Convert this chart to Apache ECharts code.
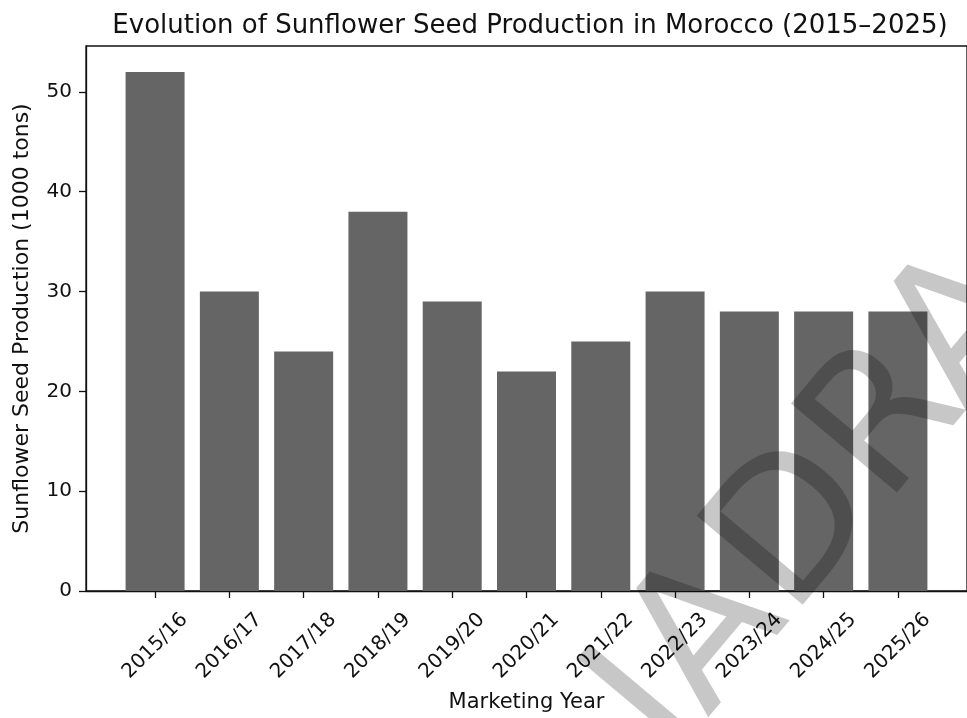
<!DOCTYPE html>
<html>
<head>
<meta charset="utf-8">
<script src="https://cdn.jsdelivr.net/npm/echarts@6/dist/echarts.min.js"></script>
<style>
  html, body { margin: 0; padding: 0; background: #fff; }
  #chart { width: 967px; height: 718px; }
</style>
</head>
<body>
<div id="chart"></div>
<script>
// marketing years and production (1000 tons)
var years = ["2015/16", "2016/17", "2017/18", "2018/19", "2019/20", "2020/21",
             "2021/22", "2022/23", "2023/24", "2024/25", "2025/26"];
var production = [52, 30, 24, 38, 29, 22, 25, 30, 28, 28, 28];
var yTicks = [0, 10, 20, 30, 40, 50];

var font = "DejaVu Sans";
var idx = years.map(function (y, i) { return i; });
var barData = production.map(function (v, i) { return [i, v]; });

var chart = echarts.init(document.getElementById("chart"));
chart.setOption({
  animation: false,
  backgroundColor: "#fff",
  textStyle: { fontFamily: font, color: "#111" },
  title: {
    text: "Evolution of Sunflower Seed Production in Morocco (2015\u20132025)",
    left: 525,
    textAlign: "center",
    top: 8,
    textStyle: { fontFamily: font, fontSize: 26, fontWeight: "normal", color: "#111" }
  },
  grid: {
    left: 86, right: 0, top: 46, bottom: 127,
    outerBoundsMode: "none",
    containLabel: false,
    show: true, borderColor: "#111", borderWidth: 1.3, backgroundColor: "transparent"
  },
  xAxis: {
    type: "value",
    min: -0.93, max: 10.93,
    name: "Marketing Year",
    nameLocation: "middle",
    nameGap: 101,
    nameTextStyle: { fontFamily: font, fontSize: 21, color: "#111" },
    splitLine: { show: false },
    axisLine: { show: true, onZero: false, lineStyle: { color: "#111", width: 1.3 } },
    axisTick: { show: true, customValues: idx, length: 7, lineStyle: { color: "#111", width: 1.3 } },
    axisLabel: {
      customValues: idx,
      formatter: function (v) { return years[Math.round(v)]; },
      rotate: 45,
      align: "center",
      verticalAlign: "middle",
      margin: 55,
      fontFamily: font, fontSize: 20, color: "#111",
      hideOverlap: false
    }
  },
  yAxis: {
    type: "value",
    min: 0, max: 54.6,
    name: "Sunflower Seed Production (1000 tons)",
    nameLocation: "middle",
    nameGap: 53,
    nameTextStyle: { fontFamily: font, fontSize: 22, color: "#111" },
    splitLine: { show: false },
    axisLine: { show: true, onZero: false, lineStyle: { color: "#111", width: 1.3 } },
    axisTick: { show: true, customValues: yTicks, length: 7, lineStyle: { color: "#111", width: 1.3 } },
    axisLabel: { customValues: yTicks, margin: 14, fontFamily: font, fontSize: 20, color: "#111" }
  },
  series: [{
    type: "bar",
    data: barData,
    barWidth: 59,
    itemStyle: { color: "#656565" }
  }],
  graphic: [{
    type: "text",
    x: 822, y: 505,
    rotation: 50 * Math.PI / 180,
    z: 100,
    silent: true,
    style: {
      text: "IADRA",
      fontFamily: font,
      fontSize: 190,
      fill: "rgba(0,0,0,0.22)",
      textAlign: "center",
      textVerticalAlign: "middle",
      align: "center",
      verticalAlign: "middle"
    }
  }]
});
</script>
</body>
</html>
